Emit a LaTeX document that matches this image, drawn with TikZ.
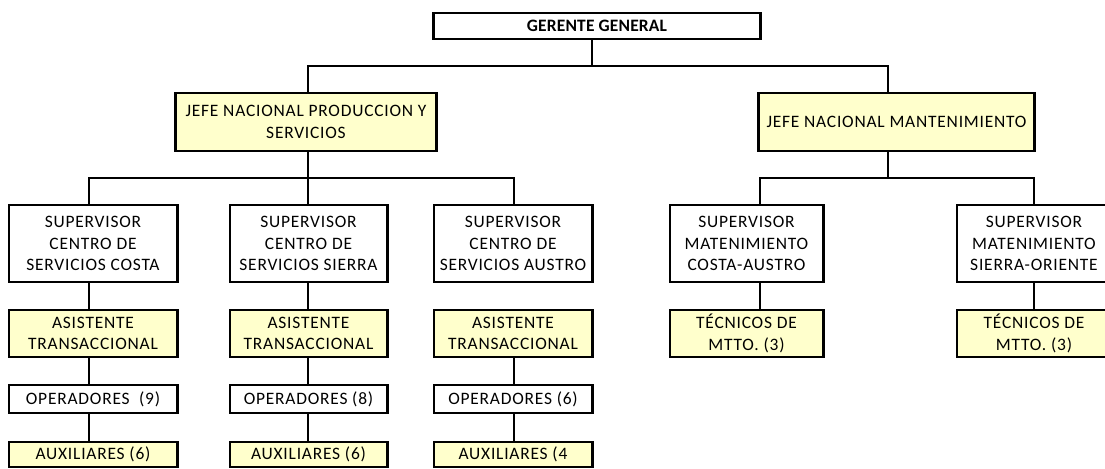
\documentclass[tikz,border=0pt]{standalone}
\usepackage{fontspec}
\setmainfont{Carlito}
\usepackage{xcolor}
\usepackage{tikz}
\usetikzlibrary{positioning, calc}
\definecolor{cargo}{HTML}{FFFFCC}

\begin{document}
\begin{tikzpicture}[
x=0.025cm, y=-0.025cm,
    box/.style={draw, rectangle, line width=2.1pt, inner sep=0pt, align=center, font=\fontsize{12.4}{15.3}\selectfont\addfontfeature{LetterSpace=4.5}},
    boss/.style={box, fill=white, font=\fontsize{12.4}{15.3}\selectfont\bfseries\addfontfeature{LetterSpace=1}},
    unit/.style={box, fill=cargo},
    line/.style={draw, line width=1.4pt}
]
    \clip (0,0) rectangle (1105,468);
    \fill[white] (0,0) rectangle (1105,468);

    % --- Top: GERENTE GENERAL ---
    \node[boss, minimum width=8.15cm, minimum height=0.65cm] (ger) at (597,26) {GERENTE GENERAL};

    % --- Jefes nacionales ---
    \node[unit, minimum width=6.5cm, minimum height=1.45cm] (jefeP) at (306,122) {JEFE NACIONAL PRODUCCION Y\\SERVICIOS};
    \node[unit, minimum width=6.875cm, minimum height=1.45cm] (jefeM) at (896.5,122) {JEFE NACIONAL MANTENIMIENTO};

    % bus points
    \coordinate (g) at (592,66);
    \coordinate (p) at (308,66);
    \coordinate (m) at (888,66);
    \coordinate (c1) at (89,178);
    \coordinate (c2) at (308,178);
    \coordinate (c3) at (514,178);
    \coordinate (c4) at (760,178);
    \coordinate (c5) at (1034,178);

    % --- Supervisores ---
    \node[box, minimum width=4.2cm, minimum height=1.925cm] (sup1) at (93,243.5) {SUPERVISOR\\CENTRO DE\\SERVICIOS COSTA};
    \node[box, minimum width=3.925cm, minimum height=1.925cm] (sup2) at (308.5,243.5) {SUPERVISOR\\CENTRO DE\\SERVICIOS SIERRA};
    \node[box, minimum width=3.95cm, minimum height=1.925cm] (sup3) at (513,243.5) {SUPERVISOR\\CENTRO DE\\SERVICIOS AUSTRO};
    \node[box, minimum width=3.825cm, minimum height=1.925cm] (sup4) at (746.5,243.5) {SUPERVISOR\\MATENIMIENTO\\COSTA-AUSTRO};
    \node[box, minimum width=3.85cm, minimum height=1.925cm] (sup5) at (1034,243.5) {SUPERVISOR\\MATENIMIENTO\\SIERRA-ORIENTE};

    % --- Asistentes y tecnicos ---
    \node[unit, minimum width=4.2cm, minimum height=1.175cm] (asis1) at (93,333.5) {ASISTENTE\\TRANSACCIONAL};
    \node[unit, minimum width=3.925cm, minimum height=1.175cm] (asis2) at (308.5,333.5) {ASISTENTE\\TRANSACCIONAL};
    \node[unit, minimum width=3.95cm, minimum height=1.175cm] (asis3) at (513,333.5) {ASISTENTE\\TRANSACCIONAL};
    \node[unit, minimum width=3.825cm, minimum height=1.175cm] (tec4) at (746.5,333.5) {TÉCNICOS DE\\MTTO. (3)};
    \node[unit, minimum width=3.85cm, minimum height=1.175cm] (tec5) at (1034,333.5) {TÉCNICOS DE\\MTTO. (3)};

    % --- Operadores ---
    \node[box, minimum width=4.2cm, minimum height=0.7cm] (ope1) at (93,399) {OPERADORES\ \ (9)};
    \node[box, minimum width=3.925cm, minimum height=0.7cm] (ope2) at (308.5,399) {OPERADORES (8)};
    \node[box, minimum width=3.95cm, minimum height=0.7cm] (ope3) at (513,399) {OPERADORES (6)};

    % --- Auxiliares ---
    \node[unit, minimum width=4.2cm, minimum height=0.625cm] (aux1) at (93,454.5) {AUXILIARES (6)};
    \node[unit, minimum width=3.925cm, minimum height=0.625cm] (aux2) at (308.5,454.5) {AUXILIARES (6)};
    \node[unit, minimum width=3.95cm, minimum height=0.625cm] (aux3) at (513,454.5) {AUXILIARES (4};

    % Connections top levels
    \draw[line] (ger.south -| g) -- (g);
    \draw[line] (jefeP.north -| p) -- (p) -- (m) -- (jefeM.north -| m);
    \draw[line] (jefeP.south -| c2) -- (c2);
    \draw[line] (sup1.north -| c1) -- (c1) -- (c3) -- (sup3.north -| c3);
    \draw[line] (c2) -- (sup2.north -| c2);
    \draw[line] (jefeM.south -| m) -- (m |- c4);
    \draw[line] (sup4.north -| c4) -- (c4) -- (c5) -- (sup5.north -| c5);

    % Connections inside columns
    \draw[line] (sup1.south -| c1) -- (asis1.north -| c1);
    \draw[line] (asis1.south -| c1) -- (ope1.north -| c1);
    \draw[line] (ope1.south -| c1) -- (aux1.north -| c1);
    \draw[line] (sup2.south -| c2) -- (asis2.north -| c2);
    \draw[line] (asis2.south -| c2) -- (ope2.north -| c2);
    \draw[line] (ope2.south -| c2) -- (aux2.north -| c2);
    \draw[line] (asis3.south -| c3) -- (ope3.north -| c3);
    \draw[line] (ope3.south -| c3) -- (aux3.north -| c3);
    \draw[line] (sup4.south -| c4) -- (tec4.north -| c4);
    \draw[line] (sup5.south -| c5) -- (tec5.north -| c5);

\end{tikzpicture}
\end{document}
